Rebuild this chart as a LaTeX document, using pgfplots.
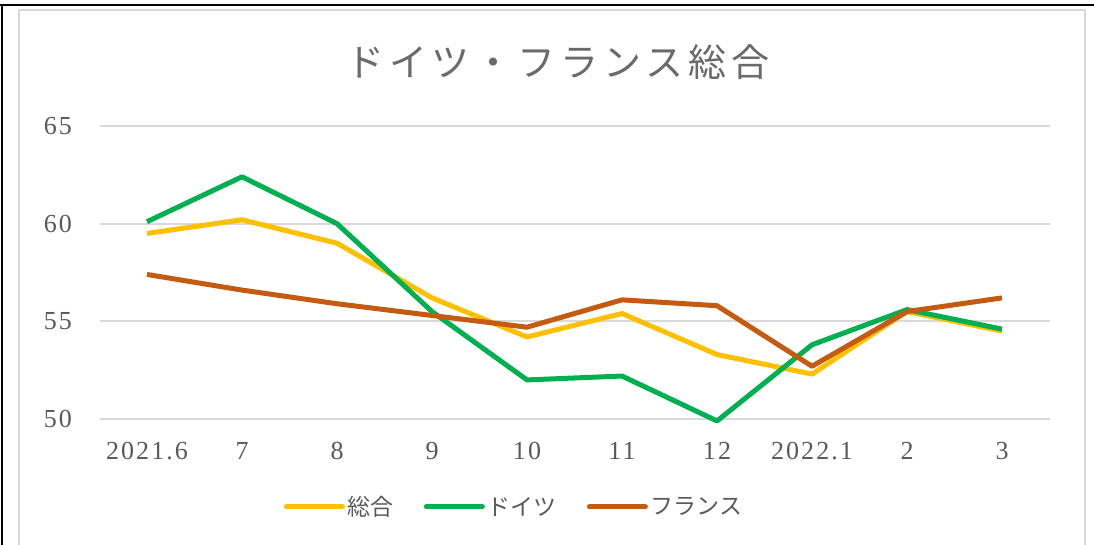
\documentclass[border=0pt]{standalone}
\usepackage{fontspec}
\setmainfont{Liberation Serif}
\newfontfamily\tickfont{Liberation Serif}[LetterSpace=8]
\newfontfamily\cjk{Noto Sans CJK JP}
\newfontfamily\cjkt{Noto Sans CJK JP}[LetterSpace=13]
\usepackage{pgfplots}
\pgfplotsset{compat=1.18}
\definecolor{txt}{HTML}{595959}
\definecolor{gridc}{HTML}{D9D9D9}
\definecolor{c1}{HTML}{FFC000}
\definecolor{c2}{HTML}{00B050}
\definecolor{c3}{HTML}{C55A11}
\begin{document}
\begin{tikzpicture}[x=1pt,y=1pt]
\path[use as bounding box] (0,0) rectangle (1094,544);
\draw[gridc, line width=2.5pt] (19,-5) -- (19,534) -- (1085,534) -- (1085,-5);
\draw[black, line width=2pt] (-2,539) -- (1096,539);
\draw[black, line width=2pt] (2,-5) -- (2,539);
\node[txt!90, font=\cjkt\fontsize{38}{40}\selectfont] at (558,482) {ドイツ・フランス総合};
\begin{axis}[
  at={(99.5pt,125pt)}, anchor=south west,
  scale only axis, width=950pt, height=293pt,
  xmin=-0.5, xmax=9.5, ymin=50, ymax=65,
  ytick={50,55,60,65},
  xtick={0,...,9},
  xticklabels={2021.6,7,8,9,10,11,12,2022.1,2,3},
  axis line style={draw=none},
  major tick length=0pt,
  ymajorgrids, grid style={gridc, line width=2pt},
  ticklabel style={txt, font=\tickfont\fontsize{26}{28}\selectfont},
  xticklabel style={anchor=base, yshift=-40pt},
  yticklabel style={anchor=east, xshift=-24pt},
  /pgf/number format/assume math mode=true,
  clip=false,
  legend columns=3,
  legend style={at={(0.437,-0.30)}, anchor=center, draw=none, fill=none,
    font=\cjk\fontsize{23}{25}\selectfont, text=txt,
    nodes={inner sep=3pt},
    /tikz/every even column/.style={column sep=27pt}},
  legend image code/.code={\draw[#1, line width=5pt, line cap=round] (0pt,0pt) -- (56pt,0pt);},
  every axis plot/.append style={line width=5pt, line join=round, no markers},
]
\addplot[c1] coordinates {(0,59.5) (1,60.2) (2,59.0) (3,56.2) (4,54.2) (5,55.4) (6,53.3) (7,52.3) (8,55.5) (9,54.5)};
\addlegendentry{総合}
\addplot[c2] coordinates {(0,60.1) (1,62.4) (2,60.0) (3,55.5) (4,52.0) (5,52.2) (6,49.9) (7,53.8) (8,55.6) (9,54.6)};
\addlegendentry{ドイツ}
\addplot[c3] coordinates {(0,57.4) (1,56.6) (2,55.9) (3,55.3) (4,54.7) (5,56.1) (6,55.8) (7,52.7) (8,55.5) (9,56.2)};
\addlegendentry{フランス}
\end{axis}
\end{tikzpicture}
\end{document}
